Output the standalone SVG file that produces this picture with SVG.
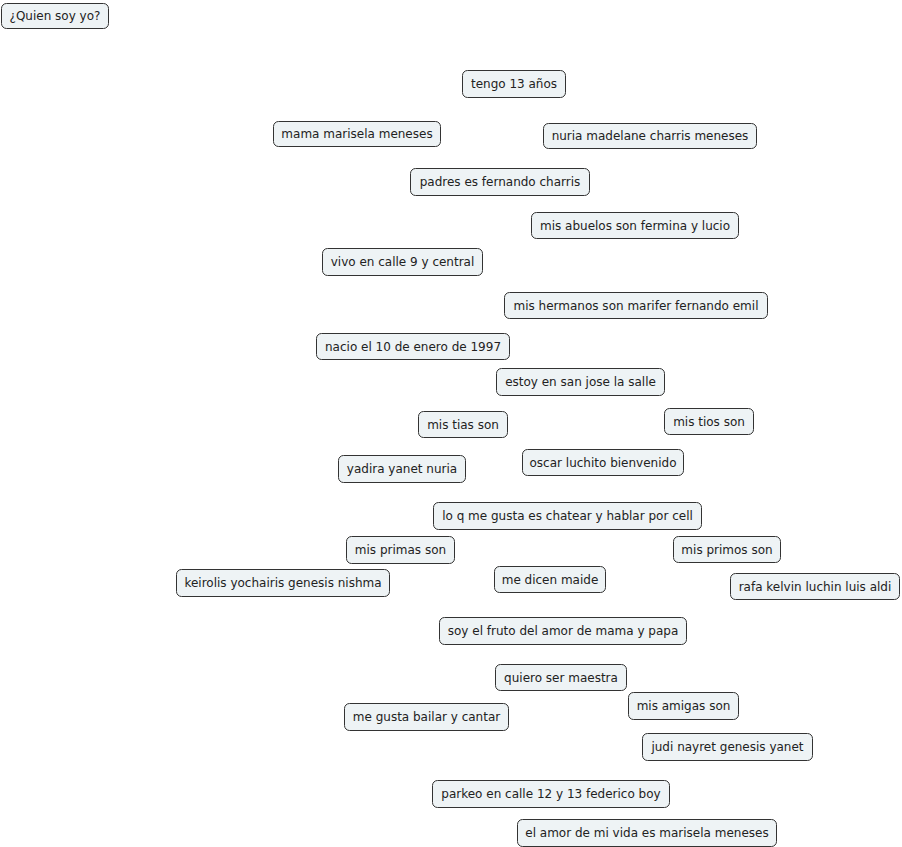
<svg xmlns="http://www.w3.org/2000/svg" width="902" height="847" viewBox="0 0 902 847">
<style>
rect.n{fill:#eef3f5;stroke:#333;stroke-width:1;}
text{font-family:"DejaVu Sans",Verdana,sans-serif;font-size:12px;fill:#222;text-anchor:middle;dominant-baseline:central;}
</style>
<rect width="902" height="847" fill="#fff"/>
<g id="connectors"></g>
<g id="n1"><rect class="n" x="1.5" y="3.5" width="107" height="25" rx="5"/><text x="55" y="16">¿Quien soy yo?</text></g>
<g id="n2"><rect class="n" x="462.5" y="70.5" width="103" height="27" rx="5"/><text x="514" y="84">tengo 13 años</text></g>
<g id="n3"><rect class="n" x="273.5" y="121.5" width="167" height="25" rx="5"/><text x="357" y="134">mama marisela meneses</text></g>
<g id="n4"><rect class="n" x="543.5" y="123.5" width="213" height="25" rx="5"/><text x="650" y="136">nuria madelane charris meneses</text></g>
<g id="n5"><rect class="n" x="410.5" y="168.5" width="179" height="27" rx="5"/><text x="500" y="182">padres es fernando charris</text></g>
<g id="n6"><rect class="n" x="531.5" y="212.5" width="207" height="26" rx="5"/><text x="635" y="225.5">mis abuelos son fermina y lucio</text></g>
<g id="n7"><rect class="n" x="322.5" y="248.5" width="160" height="27" rx="5"/><text x="402.5" y="262">vivo en calle 9 y central</text></g>
<g id="n8"><rect class="n" x="504.5" y="292.5" width="263" height="26" rx="5"/><text x="636" y="305.5">mis hermanos son marifer fernando emil</text></g>
<g id="n9"><rect class="n" x="316.5" y="333.5" width="193" height="26" rx="5"/><text x="413" y="346.5">nacio el 10 de enero de 1997</text></g>
<g id="n10"><rect class="n" x="496.5" y="368.5" width="168" height="27" rx="5"/><text x="580.5" y="382">estoy en san jose la salle</text></g>
<g id="n11"><rect class="n" x="418.5" y="411.5" width="89" height="26" rx="5"/><text x="463" y="424.5">mis tias son</text></g>
<g id="n12"><rect class="n" x="664.5" y="408.5" width="89" height="26" rx="5"/><text x="709" y="421.5">mis tios son</text></g>
<g id="n13"><rect class="n" x="338.5" y="455.5" width="127" height="27" rx="5"/><text x="402" y="469">yadira yanet nuria</text></g>
<g id="n14"><rect class="n" x="522.5" y="449.5" width="161" height="26" rx="5"/><text x="603" y="462.5">oscar luchito bienvenido</text></g>
<g id="n15"><rect class="n" x="433.5" y="502.5" width="268" height="27" rx="5"/><text x="567.5" y="516">lo q me gusta es chatear y hablar por cell</text></g>
<g id="n16"><rect class="n" x="346.5" y="536.5" width="108" height="27" rx="5"/><text x="400.5" y="550">mis primas son</text></g>
<g id="n17"><rect class="n" x="673.5" y="536.5" width="107" height="26" rx="5"/><text x="727" y="549.5">mis primos son</text></g>
<g id="n18"><rect class="n" x="176.5" y="569.5" width="213" height="27" rx="5"/><text x="283" y="583">keirolis yochairis genesis nishma</text></g>
<g id="n19"><rect class="n" x="494.5" y="566.5" width="111" height="26" rx="5"/><text x="550" y="579.5">me dicen maide</text></g>
<g id="n20"><rect class="n" x="730.5" y="573.5" width="169" height="26" rx="5"/><text x="815" y="586.5">rafa kelvin luchin luis aldi</text></g>
<g id="n21"><rect class="n" x="439.5" y="617.5" width="247" height="27" rx="5"/><text x="563" y="631">soy el fruto del amor de mama y papa</text></g>
<g id="n22"><rect class="n" x="495.5" y="664.5" width="131" height="26" rx="5"/><text x="561" y="677.5">quiero ser maestra</text></g>
<g id="n23"><rect class="n" x="628.5" y="692.5" width="110" height="27" rx="5"/><text x="683.5" y="706">mis amigas son</text></g>
<g id="n24"><rect class="n" x="344.5" y="703.5" width="164" height="27" rx="5"/><text x="426.5" y="717">me gusta bailar y cantar</text></g>
<g id="n25"><rect class="n" x="642.5" y="733.5" width="170" height="27" rx="5"/><text x="727.5" y="747">judi nayret genesis yanet</text></g>
<g id="n26"><rect class="n" x="432.5" y="780.5" width="237" height="27" rx="5"/><text x="551" y="794">parkeo en calle 12 y 13 federico boy</text></g>
<g id="n27"><rect class="n" x="517.5" y="819.5" width="259" height="27" rx="5"/><text x="647" y="833">el amor de mi vida es marisela meneses</text></g>
</svg>
